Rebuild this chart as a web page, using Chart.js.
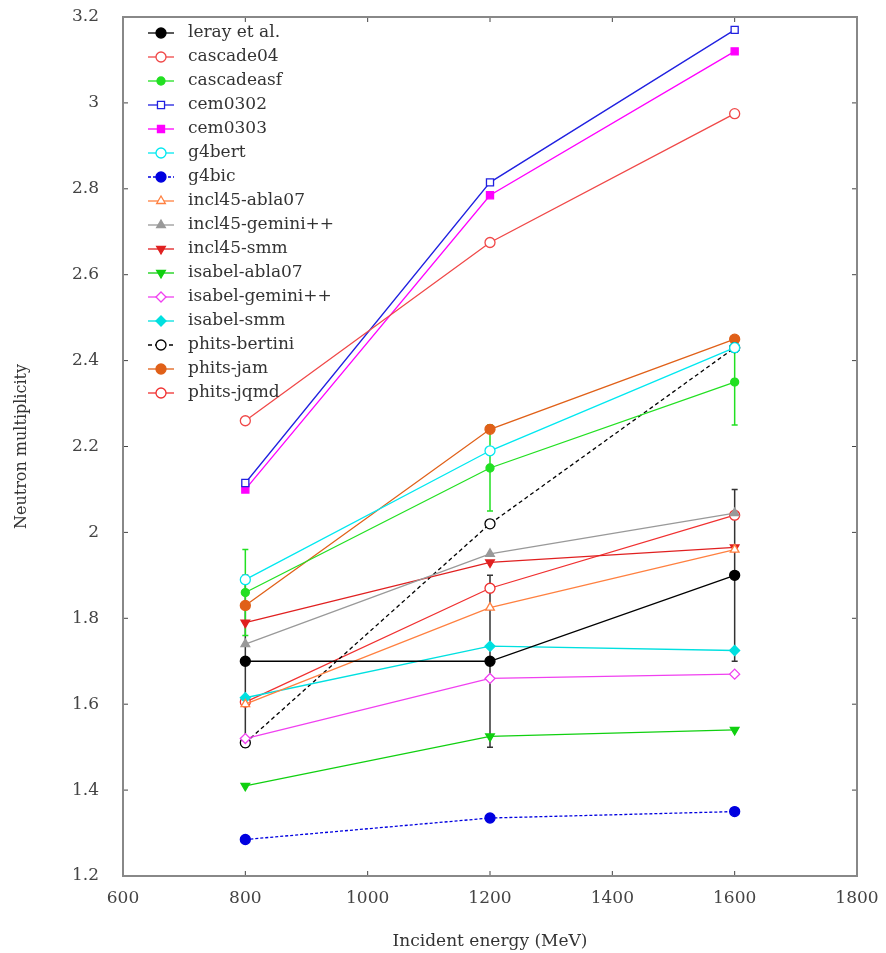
<!DOCTYPE html>
<html>
<head>
<meta charset="utf-8">
<script src="https://cdn.jsdelivr.net/npm/chart.js@4/dist/chart.umd.min.js"></script>
<style>
  html, body { margin: 0; padding: 0; background: #fff; }
  #wrap { width: 886px; height: 953px; position: relative; }
</style>
</head>
<body>
<div id="wrap"><canvas id="chart"></canvas></div>
<script>
const ENERGIES = [800, 1200, 1600];
const X_TICKS = [600, 800, 1000, 1200, 1400, 1600, 1800];
const Y_TICKS = [1.2, 1.4, 1.6, 1.8, 2, 2.2, 2.4, 2.6, 2.8, 3, 3.2];

const LERAY = [1.70, 1.70, 1.90];
const LERAY_ERR = [0.2, 0.2, 0.2];
const CASCADE04 = [2.26, 2.675, 2.975];
const CASCADEASF = [1.86, 2.15, 2.35];
const CASCADEASF_ERR = [0.1, 0.1, 0.1];
const CEM0302 = [2.115, 2.815, 3.17];
const CEM0303 = [2.10, 2.785, 3.12];
const G4BERT = [1.89, 2.19, 2.43];
const G4BIC = [1.285, 1.335, 1.35];
const INCL_ABLA = [1.60, 1.825, 1.96];
const INCL_GEMINI = [1.74, 1.95, 2.045];
const INCL_SMM = [1.79, 1.93, 1.965];
const ISABEL_ABLA = [1.41, 1.525, 1.54];
const ISABEL_GEMINI = [1.52, 1.66, 1.67];
const ISABEL_SMM = [1.615, 1.735, 1.725];
const PHITS_BERTINI = [1.51, 2.02, 2.43];
const PHITS_JAM = [1.83, 2.24, 2.45];
const PHITS_JQMD = [1.605, 1.87, 2.04];

const FONT = '"DejaVu Serif", "Liberation Serif", serif';

function series(label, values, color, style, opts = {}) {
  return {
    label,
    data: values.map((y, i) => ({ x: ENERGIES[i], y })),
    borderColor: color,
    pointBorderColor: color,
    pointBackgroundColor: opts.open ? '#fff' : color,
    pointStyle: style,
    pointRotation: opts.rotation || 0,
    pointRadius: opts.radius || 5,
    pointBorderWidth: 1.3,
    borderWidth: 1.3,
    borderDash: opts.dash || [],
    showLine: true,
    errors: opts.errors || null,
    errColor: opts.errColor || color,
  };
}

const datasets = [
  series('leray et al.', LERAY, '#000000', 'circle', { errors: LERAY_ERR, errColor: '#333' }),
  series('cascade04', CASCADE04, '#f04848', 'circle', { open: true }),
  series('cascadeasf', CASCADEASF, '#22e022', 'circle', { radius: 4, errors: CASCADEASF_ERR }),
  series('cem0302', CEM0302, '#2020e0', 'rect', { open: true }),
  series('cem0303', CEM0303, '#ff00ff', 'rect'),
  series('g4bert', G4BERT, '#00e8f0', 'circle', { open: true }),
  series('g4bic', G4BIC, '#0000e0', 'circle', { dash: [3, 2] }),
  series('incl45-abla07', INCL_ABLA, '#ff8040', 'triangle', { open: true }),
  series('incl45-gemini++', INCL_GEMINI, '#999999', 'triangle'),
  series('incl45-smm', INCL_SMM, '#e02020', 'triangle', { rotation: 180 }),
  series('isabel-abla07', ISABEL_ABLA, '#10d010', 'triangle', { rotation: 180 }),
  series('isabel-gemini++', ISABEL_GEMINI, '#f040f0', 'rectRot', { open: true }),
  series('isabel-smm', ISABEL_SMM, '#00e0e0', 'rectRot'),
  series('phits-bertini', PHITS_BERTINI, '#000000', 'circle', { open: true, dash: [4, 3] }),
  series('phits-jam', PHITS_JAM, '#e06018', 'circle'),
  series('phits-jqmd', PHITS_JQMD, '#f03030', 'circle', { open: true }),
];

const framePlugin = {
  id: 'frame',
  beforeDatasetsDraw(chart) {
    const { ctx, chartArea: a, scales } = chart;
    ctx.save();
    ctx.strokeStyle = '#444';
    ctx.lineWidth = 1;
    X_TICKS.forEach(v => {
      const px = scales.x.getPixelForValue(v);
      ctx.beginPath();
      ctx.moveTo(px, a.bottom); ctx.lineTo(px, a.bottom - 5);
      ctx.moveTo(px, a.top); ctx.lineTo(px, a.top + 5);
      ctx.stroke();
    });
    Y_TICKS.forEach(v => {
      const py = scales.y.getPixelForValue(v);
      ctx.beginPath();
      ctx.moveTo(a.left, py); ctx.lineTo(a.left + 5, py);
      ctx.moveTo(a.right, py); ctx.lineTo(a.right - 5, py);
      ctx.stroke();
    });
    ctx.strokeStyle = '#888';
    ctx.lineWidth = 2;
    ctx.strokeRect(a.left, a.top, a.right - a.left, a.bottom - a.top);
    // error bars
    chart.data.datasets.forEach(ds => {
      if (!ds.errors) return;
      ctx.strokeStyle = ds.errColor;
      ctx.lineWidth = 1.5;
      ds.data.forEach((p, i) => {
        const px = scales.x.getPixelForValue(p.x);
        const lo = scales.y.getPixelForValue(p.y - ds.errors[i]);
        const hi = scales.y.getPixelForValue(p.y + ds.errors[i]);
        ctx.beginPath();
        ctx.moveTo(px, lo); ctx.lineTo(px, hi);
        ctx.moveTo(px - 3, lo); ctx.lineTo(px + 3, lo);
        ctx.moveTo(px - 3, hi); ctx.lineTo(px + 3, hi);
        ctx.stroke();
      });
    });
    ctx.restore();
  },
  afterDatasetsDraw(chart) {
    const { ctx } = chart;
    ctx.save();
    chart.data.datasets.forEach((ds, i) => {
      const y = 33 + i * 24;
      ctx.strokeStyle = ds.borderColor;
      ctx.lineWidth = 1.3;
      ctx.setLineDash(ds.borderDash);
      ctx.beginPath();
      ctx.moveTo(148, y); ctx.lineTo(174, y);
      ctx.stroke();
      ctx.setLineDash([]);
      ctx.fillStyle = ds.pointBackgroundColor;
      ctx.strokeStyle = ds.pointBorderColor;
      Chart.helpers.drawPoint(ctx, {
        pointStyle: ds.pointStyle, radius: ds.pointRadius, rotation: ds.pointRotation, borderWidth: 1.3,
      }, 161, y);
      ctx.fillStyle = '#333';
      ctx.font = '17px ' + FONT;
      ctx.textBaseline = 'middle';
      ctx.fillText(ds.label, 188, y);
    });
    ctx.restore();
  },
};

new Chart(document.getElementById('chart'), {
  type: 'scatter',
  data: { datasets },
  options: {
    responsive: true,
    maintainAspectRatio: false,
    animation: false,
    layout: { padding: { top: 17, right: 29, left: 0, bottom: 0 } },
    plugins: { legend: { display: false }, tooltip: { enabled: false } },
    scales: {
      x: {
        type: 'linear', min: 600, max: 1800,
        afterBuildTicks: s => { s.ticks = X_TICKS.map(v => ({ value: v })); },
        afterFit: s => { s.height = 77; s.paddingLeft = 0; s.paddingRight = 0; },
        grid: { display: false },
        border: { display: false },
        ticks: { color: '#444', padding: 4, font: { family: FONT, size: 17 }, callback: v => String(v) },
        title: { display: true, text: 'Incident energy (MeV)', color: '#333', padding: { top: 0, bottom: 1 }, font: { family: FONT, size: 17 } },
      },
      y: {
        type: 'linear', min: 1.2, max: 3.2,
        afterBuildTicks: s => { s.ticks = Y_TICKS.map(v => ({ value: v })); },
        afterFit: s => { s.width = 123; s.paddingTop = 0; s.paddingBottom = 0; },
        grid: { display: false },
        border: { display: false },
        ticks: { color: '#444', padding: 16, font: { family: FONT, size: 17 }, callback: v => String(Number(v.toFixed(1))) },
        title: { display: true, text: 'Neutron multiplicity', color: '#333', padding: { top: 12, bottom: 0 }, font: { family: FONT, size: 16 } },
      },
    },
  },
  plugins: [framePlugin],
});
</script>
</body>
</html>
